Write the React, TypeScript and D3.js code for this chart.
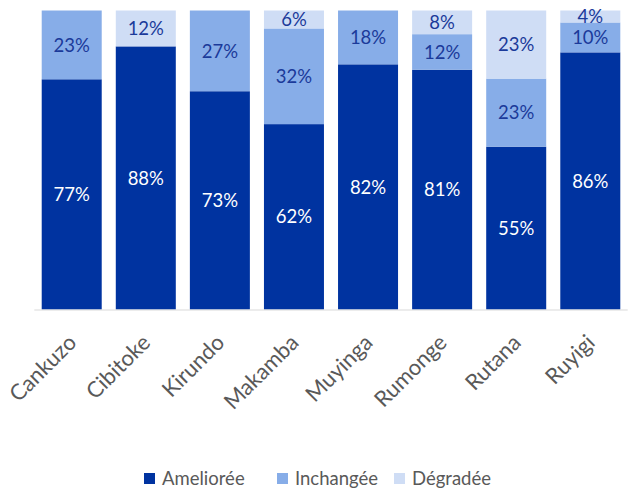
import React from "react";
import * as d3 from "d3";

const categories = ["Cankuzo", "Cibitoke", "Kirundo", "Makamba", "Muyinga", "Rumonge", "Rutana", "Ruyigi"];
const seriesNames = ["Ameliorée", "Inchangée", "Dégradée"];
const ameliore = [77, 88, 73, 62, 82, 81, 55, 86];
const inchange = [23, 0, 27, 32, 18, 12, 23, 10];
const degrade = [0, 12, 0, 6, 0, 8, 23, 4];

const colors = ["#0033a0", "#87ade8", "#cfddf5"];
const labelColors = ["#ffffff", "#1b3a9a", "#1b3a9a"];

const W = 637;
const H = 494;
const FONT = "Lato, 'Open Sans', sans-serif";

export default function App() {
  const rows = categories.map((c, i) => ({
    cat: c,
    s0: ameliore[i],
    s1: inchange[i],
    s2: degrade[i],
  }));
  const stack = d3
    .stack<any>()
    .keys(["s0", "s1", "s2"])
    .offset(d3.stackOffsetExpand);
  const series = stack(rows);

  const x = d3
    .scaleBand<string>()
    .domain(categories)
    .range([34.3, 627.7])
    .paddingInner(0.19)
    .paddingOuter(0.1);
  const y = d3.scaleLinear().domain([0, 1]).range([309.5, 10.5]);

  const legendX = [144, 277, 394];

  return (
    <svg
      width={W}
      height={H}
      style={{ position: "absolute", left: 0, top: 0, background: "#fff" }}
      fontFamily={FONT}
    >
      {series.map((s, si) => (
        <g key={si}>
          {s.map((d, i) => {
            const v = [ameliore, inchange, degrade][si][i];
            if (v === 0) return null;
            const x0 = x(categories[i])!;
            const yTop = y(d[1]);
            const yBot = y(d[0]);
            return (
              <g key={i}>
                <rect
                  x={x0}
                  y={yTop}
                  width={x.bandwidth()}
                  height={yBot - yTop}
                  fill={colors[si]}
                />
                <text
                  x={x0 + x.bandwidth() / 2}
                  y={(yTop + yBot) / 2}
                  dy="0.36em"
                  textAnchor="middle"
                  fontSize={18.5}
                  fill={labelColors[si]}
                >
                  {v}%
                </text>
              </g>
            );
          })}
        </g>
      ))}
      <line x1={34.3} x2={627.7} y1={310} y2={310} stroke="#d9d9d9" strokeWidth={1.2} />
      {categories.map((c) => {
        const cx = x(c)! + x.bandwidth() / 2 + 6;
        return (
          <text
            key={c}
            transform={`translate(${cx},344) rotate(-45)`}
            textAnchor="end"
            fontSize={22}
            fill="#595959"
          >
            {c}
          </text>
        );
      })}
      {seriesNames.map((n, i) => (
        <g key={n}>
          <rect x={legendX[i]} y={473} width={11} height={11} fill={colors[i]} />
          <text x={legendX[i] + 18} y={485} fontSize={18.5} fill="#595959">
            {n}
          </text>
        </g>
      ))}
    </svg>
  );
}
